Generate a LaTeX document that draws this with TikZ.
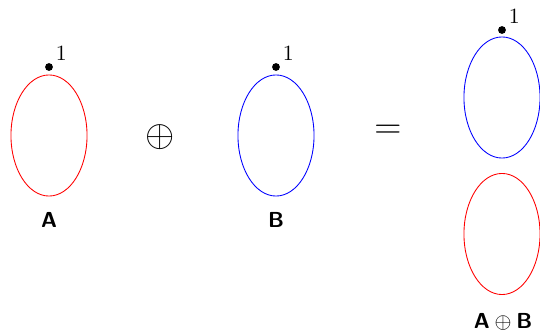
\documentclass[tikz,border=0pt]{standalone}
\usetikzlibrary{shapes.geometric, positioning}
\begin{document}
\begin{tikzpicture}[x=0.46pt, y=-0.46pt,
  loop/.style={draw=#1, ellipse, minimum width=35pt, minimum height=55.7pt, inner sep=0pt},
  base/.style={circle, fill=black, minimum size=3.6pt, inner sep=0pt,
               label={[inner sep=1.5pt]45:$1$}},
  tag/.style={font=\sffamily\bfseries},
  op/.style={font=\LARGE}
]
\useasboundingbox (0,0) rectangle (540,333);

% A
\node[loop=red]  (loopA) at (49,135.5) {};
\node[base]      (baseA) at (49,67) {};
\node[tag]       (tagA)  at (49,220) {A};

\node[op] (plus) at (160,137) {$\oplus$};

% B
\node[loop=blue] (loopB) at (276,135.5) {};
\node[base]      (baseB) at (276,67) {};
\node[tag]       (tagB)  at (276,220) {B};

\node[op] (eq) at (388,132) {$=$};

% A + B
\node[loop=blue] (sumB) at (502,97.5) {};
\node[base]      (baseS) at (502,30) {};
\node[loop=red]  (sumA) at (502,234) {};
\node[tag]       (tagS) at (503,322) {$\textsf{\textbf{A}}\oplus\textsf{\textbf{B}}$};
\end{tikzpicture}
\end{document}
